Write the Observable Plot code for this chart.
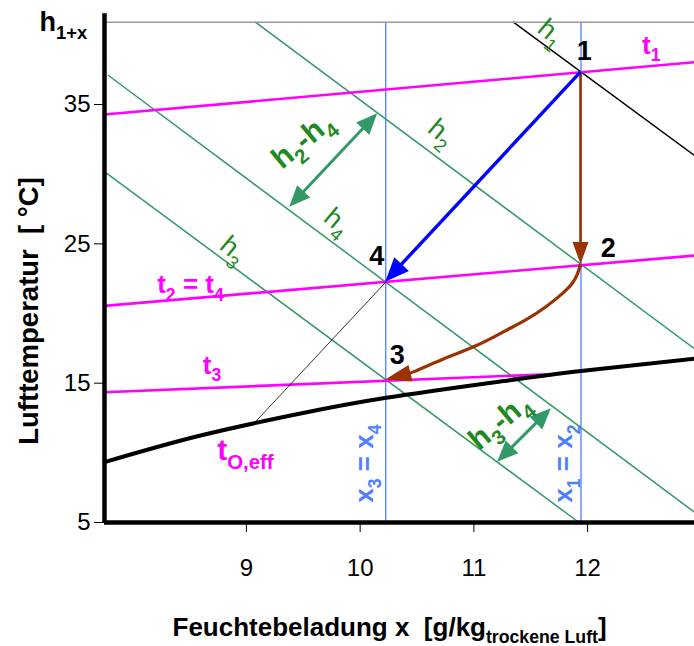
<!DOCTYPE html>
<html>
<head>
<meta charset="utf-8">
<script src="https://cdn.jsdelivr.net/npm/d3@7"></script>
<script src="https://cdn.jsdelivr.net/npm/@observablehq/plot@0.6"></script>
<style>
  body { margin: 0; background: #fff; }
</style>
</head>
<body>
<div id="chart"></div>
<script>
// Axis ticks: moisture content x [g/kg] and air temperature t [°C]
const xTicks = [9, 10, 11, 12];
const tTicks = [5, 15, 25, 35];

// State points of the air treatment process
const states = [
  {label: "1", x: 11.942, t: 37.30},
  {label: "2", x: 11.942, t: 23.52},
  {label: "3", x: 10.225, t: 15.23},
  {label: "4", x: 10.225, t: 22.25}
];

// Isotherms t1, t2 = t4, t3 (slightly rising in the h-x chart)
const isotherms = [
  {line: "t1", x: 7.752, t: 34.28}, {line: "t1", x: 12.94, t: 38.04},
  {line: "t2", x: 7.752, t: 20.55}, {line: "t2", x: 12.94, t: 24.16},
  {line: "t3", x: 7.752, t: 14.35}, {line: "t3", x: 11.716, t: 15.66}
];

// Lines of constant enthalpy h2, h3, h4
const isenthalps = [
  {line: "h2", x: 9.079, t: 40.907}, {line: "h2", x: 12.94, t: 17.47},
  {line: "h3", x: 7.769, t: 30.07}, {line: "h3", x: 11.925, t: 5},
  {line: "h4", x: 7.787, t: 37.08}, {line: "h4", x: 12.94, t: 5.74}
];
const h1Line = [{x: 11.347, t: 40.907}, {x: 12.94, t: 31.34}];

// Effective surface temperature curve t_O,eff
const surfaceCurve = [
  {x: 7.752, t: 9.33}, {x: 8.596, t: 11.24}, {x: 9.475, t: 12.82},
  {x: 10.230, t: 13.95}, {x: 11.233, t: 15.12}, {x: 11.942, t: 15.87},
  {x: 12.94, t: 16.75}
];

// Mixing line from state 4 down to the surface curve
const mixLine = [{x: 9.088, t: 12.30}, {x: 10.225, t: 22.25}];

// Constant moisture lines x1 = x2 and x3 = x4
const xLines = [10.225, 11.942];

// Cooling path 2 -> 3
const cooling = [
  {x: 11.942, t: 23.52}, {x: 11.921, t: 22.85}, {x: 11.877, t: 22.13},
  {x: 11.789, t: 21.41}, {x: 11.643, t: 20.45}, {x: 11.467, t: 19.50},
  {x: 11.291, t: 18.78}, {x: 11.057, t: 17.70}, {x: 10.705, t: 16.63},
  {x: 10.456, t: 15.69}, {x: 10.225, t: 15.23}
];

// Enthalpy differences shown as double arrows
const dh24 = [{x: 9.381, t: 27.63}, {x: 10.154, t: 34.33}];
const dh34 = [{x: 11.209, t: 9.33}, {x: 11.681, t: 13.16}];

// Annotation labels
const stateLabels = [
  {text: "1", x: 11.971, t: 38.80},
  {text: "2", x: 12.182, t: 24.67},
  {text: "3", x: 10.327, t: 16.99},
  {text: "4", x: 10.147, t: 24.09}
];
const tempLabels = [
  {text: "t_{1}", x: 12.56, t: 38.66},
  {text: "t_{2} = t_{4}", x: 8.508, t: 21.44},
  {text: "t_{3}", x: 8.697, t: 15.69}
];
const surfaceLabel = [{text: "t_{O,eff}", x: 8.991, t: 9.45}];
const enthalpyLabels = [
  {text: "h_{1}", x: 11.681, t: 40.17},
  {text: "h_{2}", x: 10.714, t: 32.99},
  {text: "h_{4}", x: 9.800, t: 26.60},
  {text: "h_{3}", x: 8.886, t: 24.59}
];
const diffLabels = [
  {text: "h_{2}-h_{4}", x: 9.492, t: 32.42},
  {text: "h_{3}-h_{4}", x: 11.224, t: 12.25}
];
const moistureLabels = [
  {text: "x_{3} = x_{4}", x: 10.116, t: 9.23},
  {text: "x_{1} = x_{2}", x: 11.865, t: 9.23}
];

const font = "'Liberation Sans', Arial, Helvetica, sans-serif";
const magenta = "#ff00ff";
const green = "#339966";
const greenText = "#1f8a1f";
const blueLine = "#4d7fff";
const brown = "#993300";

// Arrow mark with filled triangular heads, drawn through the plot's scales
function arrows(paths, {stroke, strokeWidth, headLength, headWidth, both = false, curve = d3.curveLinear}) {
  return (index, scales) => {
    const g = d3.create("svg:g");
    const head = (tip, from) => {
      const dx = tip[0] - from[0], dy = tip[1] - from[1];
      const len = Math.hypot(dx, dy);
      const ux = dx / len, uy = dy / len;
      const bx = tip[0] - ux * headLength, by = tip[1] - uy * headLength;
      g.append("path")
        .attr("d", `M${tip[0]},${tip[1]}L${bx - uy * headWidth},${by + ux * headWidth}L${bx + uy * headWidth},${by - ux * headWidth}Z`)
        .attr("fill", stroke);
      return [tip[0] - ux * headLength * 0.8, tip[1] - uy * headLength * 0.8];
    };
    for (const path of paths) {
      const pts = path.map((d) => [scales.x(d.x), scales.y(d.t)]);
      const n = pts.length;
      const end = head(pts[n - 1], pts[n - 2]);
      const start = both ? head(pts[0], pts[1]) : pts[0];
      pts[n - 1] = end;
      pts[0] = start;
      g.insert("path", ":first-child")
        .attr("d", d3.line().curve(curve)(pts))
        .attr("fill", "none")
        .attr("stroke", stroke)
        .attr("stroke-width", strokeWidth);
    }
    return g.node();
  };
}

// Turn "_{...}" markup into lowered, smaller tspans
function applySubscripts(svg) {
  d3.select(svg).selectAll("text").each(function () {
    const s = this.textContent;
    if (!s.includes("_{")) return;
    const isTitle = !!this.closest('[aria-label="x title"]');
    const ratio = isTitle ? 0.74 : 0.68;
    const drop = isTitle ? 0.24 : 0.3;
    const parts = s.split(/(_\{[^}]*\})/).filter(Boolean);
    this.textContent = "";
    let lowered = false;
    for (const p of parts) {
      const tspan = document.createElementNS("http://www.w3.org/2000/svg", "tspan");
      if (p.startsWith("_{")) {
        tspan.textContent = p.slice(2, -1);
        tspan.style.fontSize = `${ratio}em`;
        if (!lowered) tspan.setAttribute("dy", `${drop / ratio}em`);
        lowered = true;
      } else {
        tspan.textContent = p;
        if (lowered) tspan.setAttribute("dy", `${-drop}em`);
        lowered = false;
      }
      this.appendChild(tspan);
    }
  });
}

const tTop = 40.907;

const plot = Plot.plot({
  width: 694,
  height: 646,
  marginLeft: 104,
  marginRight: 0,
  marginTop: 21.7,
  marginBottom: 124,
  style: {fontFamily: font, background: "white", overflow: "visible"},
  x: {domain: [7.752, 12.94]},
  y: {domain: [5, tTop]},
  marks: [
    Plot.ruleX(xLines, {y1: 5, y2: tTop, stroke: blueLine, strokeWidth: 1.3}),
    Plot.line(isenthalps, {x: "x", y: "t", z: "line", stroke: green, strokeWidth: 1.5}),
    Plot.line(h1Line, {x: "x", y: "t", stroke: "black", strokeWidth: 1.5}),
    Plot.line(isotherms, {x: "x", y: "t", z: "line", stroke: magenta, strokeWidth: 2.6}),
    Plot.line(mixLine, {x: "x", y: "t", stroke: "black", strokeWidth: 0.8}),
    Plot.line(surfaceCurve, {x: "x", y: "t", curve: "natural", stroke: "black", strokeWidth: 4}),
    Plot.ruleY([tTop], {x1: 7.752, x2: 12.94, stroke: "#999", strokeWidth: 1.5}),

    arrows([[states[0], states[1]]], {stroke: brown, strokeWidth: 2.6, headLength: 22, headWidth: 8}),
    arrows([cooling], {stroke: brown, strokeWidth: 3.2, headLength: 26, headWidth: 8.5, curve: d3.curveBasis}),
    arrows([[states[0], states[3]]], {stroke: "#0000ff", strokeWidth: 3.4, headLength: 24, headWidth: 10}),
    arrows([dh24, dh34], {stroke: green, strokeWidth: 3, headLength: 21, headWidth: 9, both: true}),

    Plot.ruleX([7.752], {y1: 5, y2: 41.51, stroke: "black", strokeWidth: 4.5}),
    Plot.ruleY([5], {x1: 7.752, x2: 12.94, stroke: "black", strokeWidth: 4.5}),
    Plot.axisY(tTicks, {anchor: "left", tickSize: 10, tickPadding: 4, fontSize: 24, label: null, tickFormat: (d) => d}),
    Plot.axisX(xTicks, {anchor: "bottom", tickSize: 10, tickPadding: 26, fontSize: 24, label: null, tickFormat: (d) => d}),

    Plot.text(["h_{1+x}"], {text: (d) => d, frameAnchor: "top-left", dx: -65, dy: 8.3, textAnchor: "start", lineAnchor: "bottom", fontSize: 27, fontWeight: "bold"}),
    Plot.text(["Lufttemperatur\u00a0 [ °C]"], {text: (d) => d, frameAnchor: "left", dx: -67, dy: 38.6, rotate: -90, textAnchor: "middle", lineAnchor: "bottom", fontSize: 27.5, fontWeight: "bold"}),
    Plot.text(["Feuchtebeladung x\u00a0 [g/kg_{trockene Luft}]"], {text: (d) => d, frameAnchor: "bottom-left", dx: 68, dy: 113, textAnchor: "start", lineAnchor: "bottom", fontSize: 26, fontWeight: "bold", ariaLabel: "x title"}),

    Plot.text(stateLabels, {x: "x", y: "t", text: "text", fontSize: 27, fontWeight: "bold", fill: "black"}),
    Plot.text(tempLabels, {x: "x", y: "t", text: "text", lineAnchor: "bottom", fontSize: 26, fontWeight: "bold", fill: magenta}),
    Plot.text(surfaceLabel, {x: "x", y: "t", text: "text", lineAnchor: "bottom", fontSize: 30, fontWeight: "bold", fill: magenta}),
    Plot.text(enthalpyLabels, {x: "x", y: "t", text: "text", rotate: 40, fontSize: 27, fill: greenText}),
    Plot.text(diffLabels, {x: "x", y: "t", text: "text", rotate: -40, fontSize: 30, fontWeight: "bold", fill: greenText}),
    Plot.text(moistureLabels, {x: "x", y: "t", text: "text", rotate: -90, lineAnchor: "bottom", fontSize: 26, fontWeight: "bold", fill: blueLine})
  ]
});

document.getElementById("chart").append(plot);
applySubscripts(plot);
</script>
</body>
</html>
